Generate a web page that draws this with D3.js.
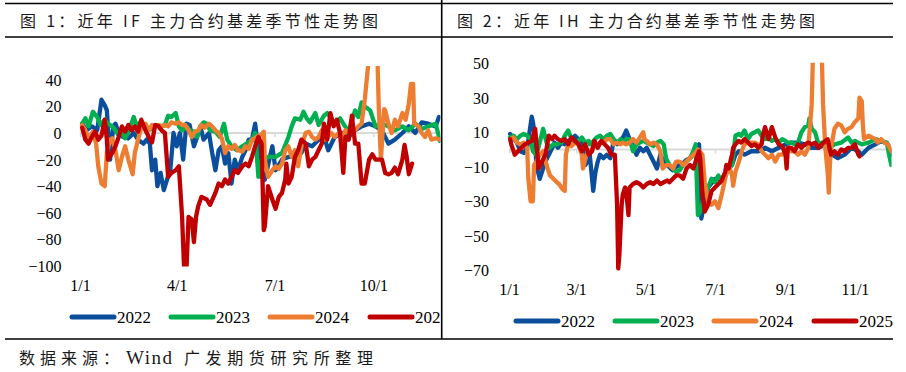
<!DOCTYPE html>
<html><head><meta charset="utf-8">
<script src="https://cdn.jsdelivr.net/npm/d3@7"></script>
<style>body{margin:0;background:#fff}svg{display:block}</style>
</head><body>
<svg id="chart" width="906" height="372"></svg>
<script>
// ---------- data (x = days since 1/1, y = basis) ----------
const years = ["2022", "2023", "2024", "2025"];
const seriesColors = ["#0b4f9c", "#00b050", "#ed7d31", "#c00000"];

const IF_2022 = [[2,7],[6,2],[11,5],[16,2],[20,25],[23,21],[25,17],[28,-20],[31,5],[33,7],[36,0],[40,-3],[45,-4],[50,0],[54,-5],[59,-8],[62,-5],[65,-8],[67,-28],[70,-20],[72,-40],[75,-30],[78,-43],[81,-35],[84,-28],[87,0],[90,-10],[93,0],[96,-20],[99,7],[102,6],[106,-10],[109,-3],[112,5],[115,-5],[120,0],[123,-15],[126,-28],[129,-13],[132,-10],[135,-23],[138,-15],[141,-38],[144,-20],[147,-28],[151,-18],[154,-13],[157,-5],[160,-5],[163,7],[169,-33],[172,-35],[179,-10],[182,-28],[188,-20],[194,-18],[200,-18],[206,-15],[210,-8],[216,-10],[222,-5],[228,-5],[231,-13],[237,-3],[244,0],[250,-3],[256,2],[262,5],[269,7],[275,5],[281,2],[287,-8],[293,-5],[300,0],[306,5],[312,0],[318,8],[324,7],[331,5],[334,12]];
const IF_2023 = [[2,7],[5,11],[8,5],[12,16],[16,12],[19,6],[23,10],[26,7],[30,5],[33,2],[36,-2],[39,0],[42,-4],[45,1],[50,12],[53,5],[56,8],[59,5],[62,2],[67,3],[71,6],[76,5],[79,6],[82,13],[85,12],[89,15],[92,5],[95,2],[99,5],[102,2],[106,1],[109,-3],[112,5],[115,8],[118,7],[121,2],[126,1],[130,-3],[134,7],[137,-5],[141,-10],[146,-13],[151,-10],[155,-8],[160,-5],[163,0],[166,-33],[169,-20],[175,-18],[182,-18],[188,-15],[194,-3],[197,5],[200,11],[205,10],[208,16],[211,11],[214,8],[219,15],[222,6],[227,13],[230,15],[233,12],[237,7],[242,11],[245,7],[250,1],[256,17],[259,12],[262,23],[265,20],[270,17],[275,5],[281,7],[287,5],[293,2],[300,5],[306,2],[312,7],[318,3],[324,5],[331,7],[335,-6]];
const IF_2024 = [[2,6],[5,2],[8,-4],[12,1],[15,-8],[17,-25],[20,-38],[23,-40],[25,-15],[28,-5],[30,-4],[33,-13],[36,-28],[39,-18],[42,-10],[45,-20],[49,-31],[51,-15],[54,-5],[57,4],[61,7],[64,2],[67,6],[70,5],[73,6],[76,5],[79,6],[82,5],[85,8],[89,7],[92,8],[95,6],[98,6],[101,2],[104,-3],[107,1],[110,2],[113,6],[116,4],[120,7],[123,5],[126,2],[129,0],[132,-4],[135,-15],[138,-10],[141,-12],[144,-9],[147,-13],[151,-14],[154,-10],[157,-12],[160,-5],[163,-4],[166,-2],[168,-2],[171,1],[172,-20],[175,-33],[179,-28],[182,-25],[185,-27],[188,-23],[191,-13],[194,-10],[197,-18],[200,-13],[203,-25],[206,-10],[210,0],[213,1],[216,-3],[219,-5],[222,-3],[225,2],[228,-5],[231,-3],[234,0],[237,-3],[241,0],[244,-4],[247,2],[250,0],[253,1],[256,2],[259,5],[262,7],[265,25],[268,50],[270,90],[275,95],[277,50],[278,20],[280,-20],[283,18],[284,17],[287,7],[290,0],[293,10],[296,5],[300,15],[303,10],[306,22],[308,37],[310,37],[311,7],[315,5],[318,0],[321,-3],[324,2],[327,-5],[331,-4],[335,-5]];
const IF_2025 = [[2,4],[5,-5],[8,-8],[11,-3],[14,1],[17,-5],[20,-2],[23,10],[25,-5],[26,-20],[30,-15],[33,-10],[36,-3],[39,5],[42,1],[45,6],[48,2],[51,5],[54,1],[57,10],[61,2],[64,-3],[67,-7],[70,6],[73,5],[76,2],[79,0],[82,-33],[85,-30],[89,-28],[92,-25],[95,-63],[97,-105],[99,-105],[101,-63],[104,-65],[106,-82],[108,-63],[110,-55],[113,-48],[118,-50],[121,-54],[126,-45],[129,-38],[132,-40],[135,-35],[138,-38],[141,-33],[144,-28],[147,-30],[151,-25],[154,-23],[157,-25],[160,-18],[163,-10],[166,-3],[169,-8],[171,-73],[172,-70],[175,-40],[179,-50],[182,-57],[185,-48],[188,-45],[191,-35],[192,-23],[194,-38],[197,-33],[200,-18],[203,-13],[206,-5],[210,-8],[213,-25],[216,-20],[219,-18],[222,-13],[225,-8],[227,7],[230,-5],[233,15],[236,5],[239,10],[242,0],[245,-30],[247,-3],[250,-5],[253,13],[256,-8],[259,-8],[262,-38],[265,-38],[269,-20],[272,-16],[275,-20],[278,-20],[281,-20],[284,-30],[287,-31],[290,-30],[293,-26],[296,-31],[300,-20],[302,-9],[304,-18],[306,-31],[309,-23]];

const IH_2022 = [[1,9],[7,4],[10,-1],[13,-2],[16,1],[20,19],[21,16],[23,6],[24,-9],[27,-17],[29,-13],[32,-7],[35,-3],[38,1],[40,4],[43,1],[46,4],[49,3],[52,5],[55,6],[58,8],[61,6],[64,5],[67,-9],[69,-7],[71,-3],[74,-24],[76,-13],[78,-7],[80,-3],[83,-5],[86,-3],[89,-5],[92,5],[95,3],[98,5],[101,8],[103,11],[106,6],[109,2],[112,-3],[115,1],[118,-1],[121,1],[124,-3],[127,-7],[130,-11],[133,-3],[136,-7],[139,-9],[142,-11],[144,-12],[147,-10],[150,-9],[153,-8],[156,-6],[159,-5],[162,-3],[165,1],[167,3],[169,-40],[172,-30],[175,-22],[181,-17],[187,-17],[193,-11],[196,-9],[199,-3],[202,-1],[207,-3],[213,-1],[219,-1],[225,1],[231,-1],[237,1],[243,3],[248,4],[254,4],[260,3],[266,1],[272,1],[278,3],[284,-3],[289,-5],[295,-3],[301,1],[307,-1],[310,-3],[316,1],[322,3],[327,5],[333,3],[336,-3]];
const IH_2023 = [[1,7],[4,8],[7,6],[10,8],[13,9],[16,8],[19,6],[21,-1],[24,-3],[27,4],[30,12],[33,4],[36,1],[39,3],[42,3],[46,4],[49,8],[52,11],[55,6],[58,4],[61,5],[64,7],[67,4],[70,5],[71,3],[73,4],[77,7],[80,8],[83,6],[86,8],[89,9],[92,6],[95,4],[98,6],[101,4],[103,6],[106,6],[109,-1],[112,3],[115,4],[118,5],[121,4],[124,3],[127,2],[130,4],[133,5],[136,3],[138,-5],[141,-9],[144,-11],[147,-13],[150,-12],[153,-9],[156,-7],[159,-5],[162,-1],[164,3],[166,-38],[168,-36],[172,-26],[175,-22],[178,-17],[181,-19],[184,-15],[187,-19],[190,-15],[193,-11],[196,-9],[199,8],[202,9],[204,8],[207,11],[210,6],[213,9],[216,10],[219,11],[222,8],[225,6],[228,7],[231,5],[234,6],[237,4],[240,6],[243,5],[245,4],[248,4],[251,3],[254,4],[257,10],[260,13],[263,14],[264,18],[266,12],[269,10],[272,3],[275,4],[278,3],[281,1],[286,3],[292,4],[298,7],[301,4],[304,5],[310,3],[316,4],[322,6],[327,5],[332,4],[334,-3],[336,-9]];
const IH_2024 = [[1,6],[4,7],[7,4],[10,3],[13,4],[16,1],[17,-17],[19,-30],[21,-30],[22,-9],[24,-7],[27,-3],[30,-1],[33,-9],[36,-15],[39,-17],[42,-19],[44,-20],[47,-23],[49,-24],[50,-3],[52,3],[55,2],[58,4],[61,3],[64,-3],[65,-11],[68,-3],[71,-1],[74,1],[77,3],[80,4],[83,4],[86,6],[89,6],[92,3],[95,4],[98,3],[100,4],[103,3],[106,4],[109,6],[112,4],[115,7],[118,10],[119,6],[121,5],[124,3],[127,4],[130,3],[133,-1],[135,-11],[138,-9],[141,-9],[144,-11],[147,-7],[150,-7],[153,-9],[156,-7],[159,-5],[162,-3],[165,-1],[166,0],[170,-3],[172,-19],[175,-30],[178,-32],[181,-30],[184,-34],[187,-26],[190,-17],[193,-9],[196,-15],[197,-21],[199,-13],[202,-7],[205,0],[207,3],[210,4],[213,4],[216,4],[219,3],[222,-1],[225,-3],[228,-5],[231,-3],[234,-7],[237,-3],[240,-3],[243,-1],[245,1],[248,-1],[251,-1],[254,-3],[257,-1],[260,-3],[263,1],[266,26],[267,51],[269,80],[273,80],[275,51],[276,26],[278,1],[280,-13],[281,-25],[282,-9],[283,1],[286,12],[289,15],[292,14],[295,10],[298,12],[301,13],[304,16],[307,18],[308,30],[310,28],[311,14],[312,6],[316,8],[319,7],[322,6],[324,4],[327,6],[330,4],[333,3],[336,-1]];
const IH_2025 = [[1,6],[2,3],[5,-3],[8,-1],[11,1],[14,3],[17,4],[20,5],[23,12],[24,5],[26,-11],[29,-7],[32,-3],[35,8],[38,6],[40,8],[43,6],[46,5],[49,6],[52,3],[55,7],[58,5],[61,3],[64,-1],[67,3],[70,-3],[73,-1],[75,5],[78,1],[81,5],[84,3],[87,1],[90,-3],[93,-3],[95,-32],[96,-69],[97,-61],[99,-32],[100,-26],[102,-22],[103,-24],[105,-38],[106,-22],[109,-20],[112,-19],[115,-20],[118,-22],[121,-20],[124,-19],[127,-20],[130,-18],[133,-20],[136,-19],[139,-18],[141,-19],[144,-17],[147,-15],[150,-15],[153,-17],[156,-11],[159,-9],[162,-11],[165,-5],[167,-1],[168,-5],[170,-26],[172,-36],[175,-32],[178,-24],[181,-22],[184,-20],[187,-18],[190,-13],[191,-9],[193,-11],[196,-3],[197,1],[199,3],[202,5],[204,4],[207,6],[210,4],[213,2],[216,3],[219,1],[222,3],[223,8],[225,13],[228,6],[231,13],[234,7],[237,3],[240,2],[243,-3],[244,-11],[245,1],[248,1],[251,-1],[254,3],[257,1],[260,3],[263,4],[266,3],[269,4],[272,1],[275,3],[278,5],[280,6],[283,-3],[286,-1],[289,-3],[292,0],[295,-1],[298,1],[301,1],[304,3],[307,-3],[308,-4]];

const leftXTickDays = [0, 90, 181, 273];
const leftXTickLabels = ["1/1", "4/1", "7/1", "10/1"];
const rightXTickDays = [0, 59, 120, 181, 243, 304];
const rightXTickLabels = ["1/1", "3/1", "5/1", "7/1", "9/1", "11/1"];
const leftYTicks = [-100, -80, -60, -40, -20, 0, 20, 40];
const rightYTicks = [-70, -50, -30, -10, 10, 30, 50];

const leftTitle = "图 1：近年 IF 主力合约基差季节性走势图";
const rightTitle = "图 2：近年 IH 主力合约基差季节性走势图";
const sourceParts = ["数据来源：", "Wind", "广发期货研究所整理"];

// ---------- drawing ----------
const svg = d3.select("#chart");
const defs = svg.append("defs");
const numFont = "'Liberation Serif', 'Times New Roman', serif";
const cjkFont = "'Noto Sans CJK SC', 'Noto Sans', sans-serif";

// frame
const frame = svg.append("g").attr("stroke", "#000").attr("stroke-width", 1.3);
frame.append("line").attr("x1", 5).attr("x2", 893).attr("y1", 3.5).attr("y2", 3.5);
frame.append("line").attr("x1", 5).attr("x2", 893).attr("y1", 37).attr("y2", 37);
frame.append("line").attr("x1", 5).attr("x2", 893).attr("y1", 339).attr("y2", 339);
frame.append("line").attr("x1", 441.7).attr("x2", 441.7).attr("y1", 0).attr("y2", 339).attr("stroke-width", 1.6);

// titles
svg.append("text").attr("x", 20).attr("y", 27).attr("font-family", cjkFont).attr("font-size", 16)
  .attr("fill", "#1a1a1a").attr("textLength", 358).attr("lengthAdjust", "spacing").text(leftTitle);
svg.append("text").attr("x", 457).attr("y", 27).attr("font-family", cjkFont).attr("font-size", 16)
  .attr("fill", "#1a1a1a").attr("textLength", 358).attr("lengthAdjust", "spacing").text(rightTitle);

// source line
const src = svg.append("text").attr("y", 364).attr("fill", "#1a1a1a").attr("font-size", 16);
src.append("tspan").attr("x", 19).attr("font-family", cjkFont)
  .attr("textLength", 100).attr("lengthAdjust", "spacing").text(sourceParts[0]);
src.append("tspan").attr("x", 126).attr("font-family", numFont).attr("font-size", 19)
  .attr("textLength", 46).attr("lengthAdjust", "spacing").text(sourceParts[1]);
src.append("tspan").attr("x", 184).attr("font-family", cjkFont)
  .attr("textLength", 189).attr("lengthAdjust", "spacing").text(sourceParts[2]);

function drawPanel(cfg) {
  const x = d3.scaleLinear().domain(cfg.xDomain).range(cfg.xRange);
  const y = d3.scaleLinear().domain(cfg.yDomain).range(cfg.yRange);
  const g = svg.append("g");
  if (cfg.panelClip) {
    defs.append("clipPath").attr("id", cfg.id + "-panel").append("rect")
      .attr("x", 0).attr("y", 0).attr("width", cfg.panelClip).attr("height", 372);
    g.attr("clip-path", `url(#${cfg.id}-panel)`);
  }
  // zero line
  g.append("line").attr("x1", x.range()[0]).attr("x2", x.range()[1])
    .attr("y1", y(0)).attr("y2", y(0)).attr("stroke", "#d9d9d9").attr("stroke-width", 2);
  // tick marks on zero line
  const tickAxis = d3.axisBottom(x).tickValues(cfg.xTickDays).tickSize(4).tickFormat("");
  const ta = g.append("g").attr("transform", `translate(0,${y(0)})`).call(tickAxis);
  ta.select(".domain").remove();
  ta.selectAll("line").attr("stroke", "#d9d9d9").attr("stroke-width", 1.5);

  // y axis labels
  const yAxis = d3.axisLeft(y).tickValues(cfg.yTicks).tickSize(0).tickPadding(0);
  const ya = g.append("g").attr("transform", `translate(${cfg.yLabelX},0)`).call(yAxis);
  ya.select(".domain").remove();
  ya.selectAll("text").attr("font-family", numFont).attr("font-size", 16).attr("fill", "#000").attr("dy", "0.34em");

  // x axis labels
  const xAxis = d3.axisBottom(x).tickValues(cfg.xTickDays).tickSize(0).tickPadding(0)
    .tickFormat((d, i) => cfg.xTickLabels[i]);
  const xa = g.append("g").attr("transform", `translate(0,${cfg.xLabelY})`).call(xAxis);
  xa.select(".domain").remove();
  xa.selectAll("text").attr("font-family", numFont).attr("font-size", 16).attr("fill", "#000")
    .attr("y", 0).attr("dy", "0.34em");

  // clip for plot area
  defs.append("clipPath").attr("id", cfg.id + "-plot").append("rect")
    .attr("x", x.range()[0] - 3).attr("y", y.range()[1] - 0.5)
    .attr("width", x.range()[1] - x.range()[0] + 3.5).attr("height", y.range()[0] - y.range()[1] + 1);
  const line = d3.line().x(d => x(d[0])).y(d => y(d[1]));
  g.append("g").attr("clip-path", `url(#${cfg.id}-plot)`)
    .selectAll("path").data(cfg.series).join("path")
    .attr("d", d => line(d)).attr("fill", "none")
    .attr("stroke", (d, i) => seriesColors[i]).attr("stroke-width", 4.3)
    .attr("stroke-linejoin", "round").attr("stroke-linecap", "round");

  // legend
  const lg = g.append("g");
  years.forEach((yr, i) => {
    const lx = cfg.legendX[i];
    lg.append("line").attr("x1", lx).attr("x2", lx + 42).attr("y1", cfg.legendY).attr("y2", cfg.legendY)
      .attr("stroke", seriesColors[i]).attr("stroke-width", 5).attr("stroke-linecap", "round");
    lg.append("text").attr("x", lx + 45).attr("y", cfg.legendY).attr("dy", "0.35em")
      .attr("font-family", numFont).attr("font-size", 17).attr("fill", "#000").text(yr);
  });
}

drawPanel({
  id: "left", series: [IF_2022, IF_2023, IF_2024, IF_2025],
  xDomain: [0, 335], xRange: [80, 440],
  yDomain: [-100, 50], yRange: [266, 66.5],
  xTickDays: leftXTickDays, xTickLabels: leftXTickLabels, yTicks: leftYTicks,
  yLabelX: 61.5, xLabelY: 286, legendY: 317, legendX: [72, 171, 270, 370], panelClip: 440.8
});
drawPanel({
  id: "right", series: [IH_2022, IH_2023, IH_2024, IH_2025],
  xDomain: [0, 335.7], xRange: [509, 891],
  yDomain: [-70, 50], yRange: [270.25, 63.25],
  xTickDays: rightXTickDays, xTickLabels: rightXTickLabels, yTicks: rightYTicks,
  yLabelX: 489, xLabelY: 290, legendY: 321, legendX: [516, 615, 714, 814]
});
</script>
</body></html>
